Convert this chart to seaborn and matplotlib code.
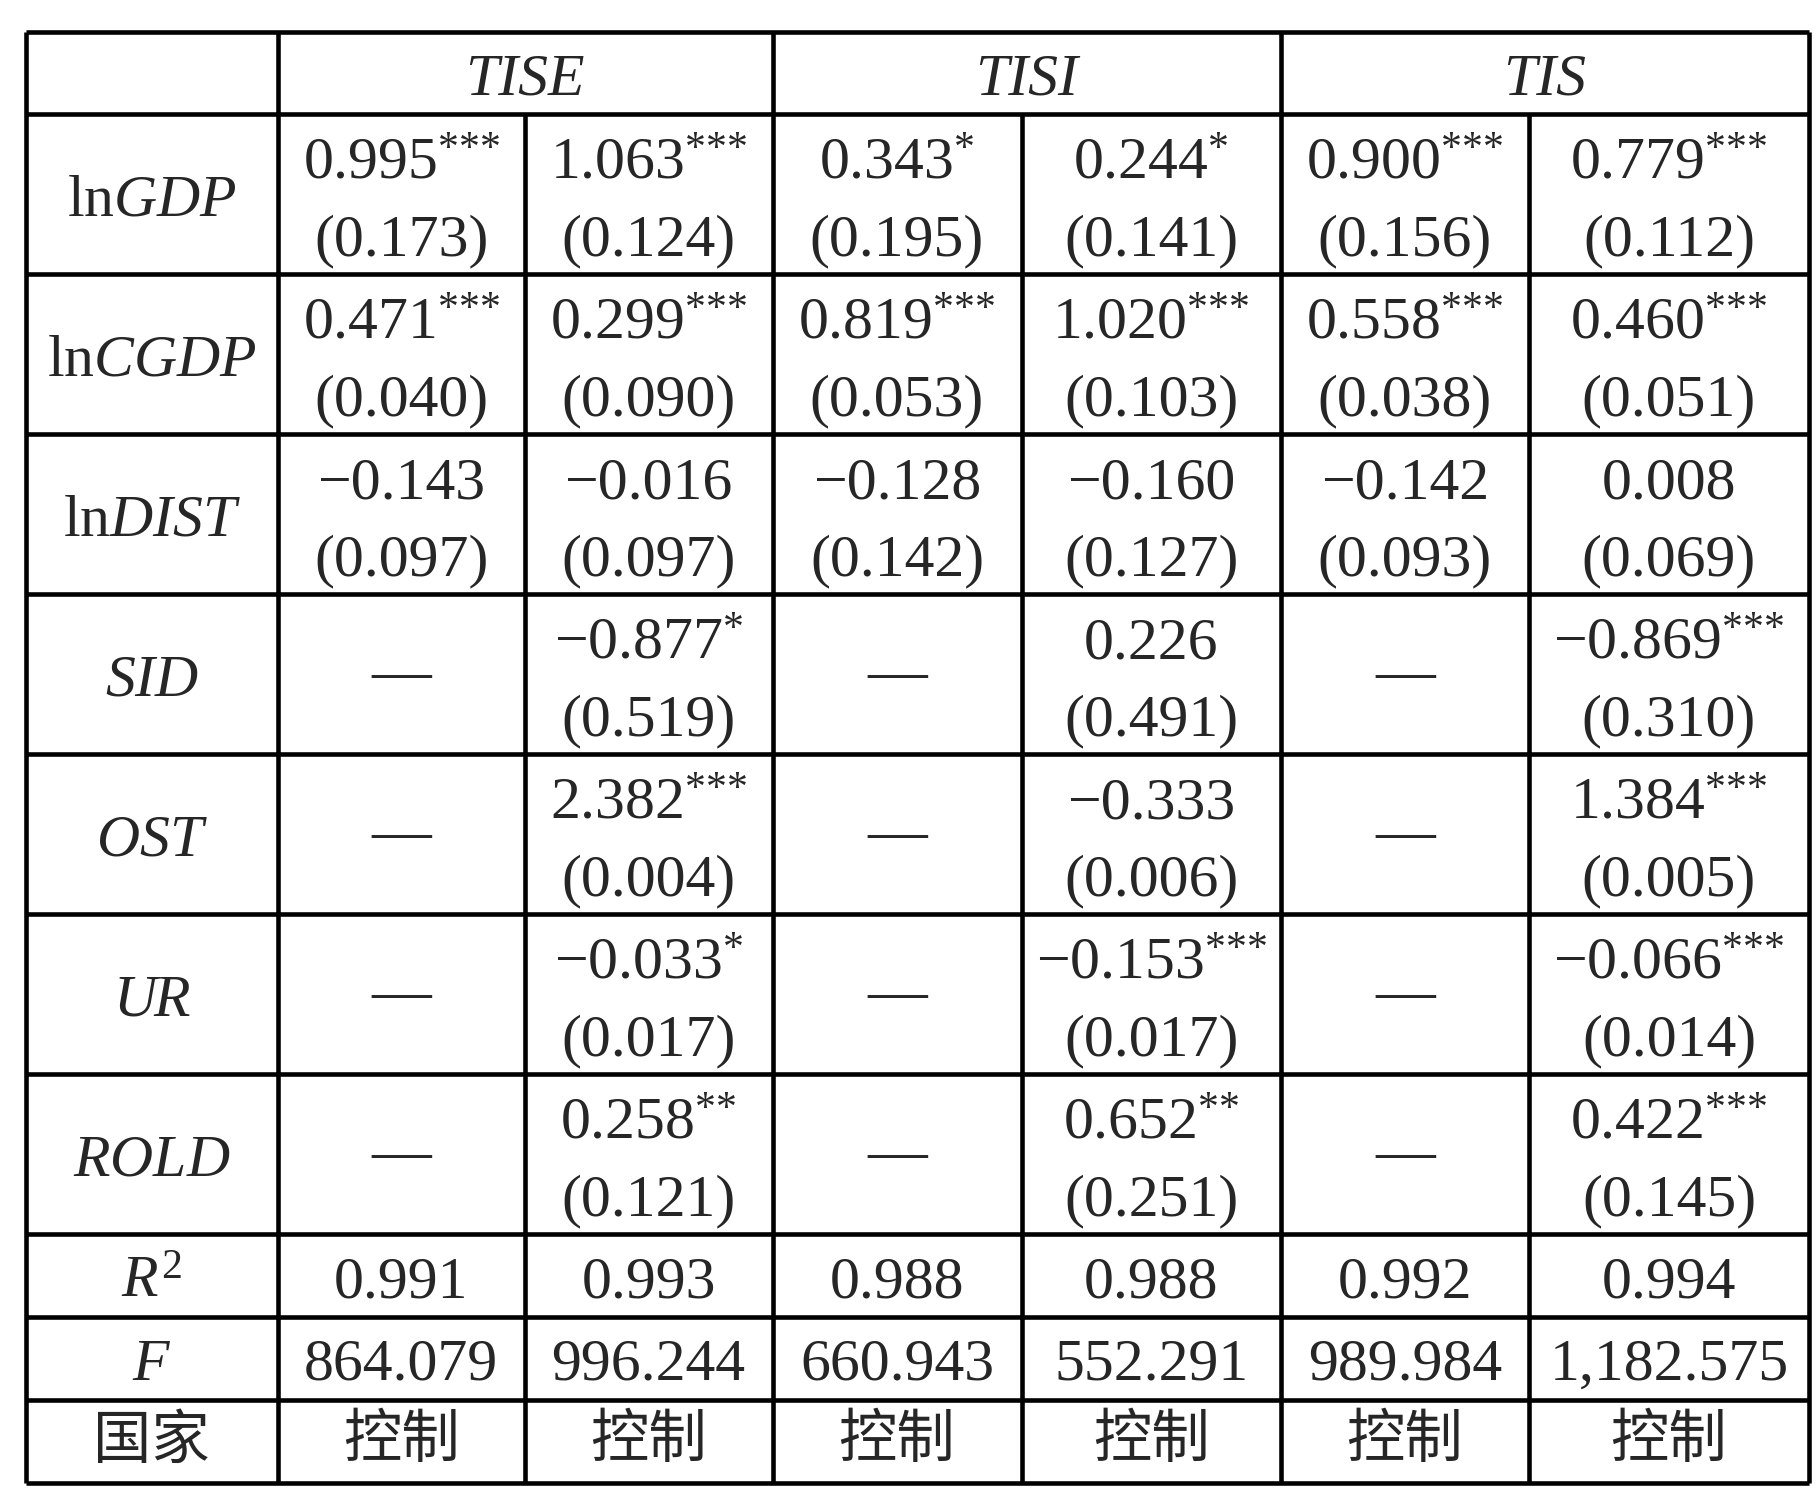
import numpy as np
import matplotlib
matplotlib.use("Agg")
import matplotlib.pyplot as plt
import seaborn as sns

# ---- table content ----
groups = ["TISE", "TISI", "TIS"]
row_labels = [r"ln$\mathit{GDP}$", r"ln$\mathit{CGDP}$", r"ln$\mathit{DIST}$",
              r"$\mathit{SID}$", r"$\mathit{OST}$", r"$\mathit{UR}$", r"$\mathit{ROLD}$"]
stat_labels = [r"$\mathit{R}^{\mathit{2}}$", r"$\mathit{F}$", "国家"]

nan = np.nan
coef = [
    [0.995, 1.063, 0.343, 0.244, 0.900, 0.779],
    [0.471, 0.299, 0.819, 1.020, 0.558, 0.460],
    [-0.143, -0.016, -0.128, -0.160, -0.142, 0.008],
    [nan, -0.877, nan, 0.226, nan, -0.869],
    [nan, 2.382, nan, -0.333, nan, 1.384],
    [nan, -0.033, nan, -0.153, nan, -0.066],
    [nan, 0.258, nan, 0.652, nan, 0.422],
]
stars = [
    [3, 3, 1, 1, 3, 3],
    [3, 3, 3, 3, 3, 3],
    [0, 0, 0, 0, 0, 0],
    [0, 1, 0, 0, 0, 3],
    [0, 3, 0, 0, 0, 3],
    [0, 1, 0, 3, 0, 3],
    [0, 2, 0, 2, 0, 3],
]
se = [
    [0.173, 0.124, 0.195, 0.141, 0.156, 0.112],
    [0.040, 0.090, 0.053, 0.103, 0.038, 0.051],
    [0.097, 0.097, 0.142, 0.127, 0.093, 0.069],
    [nan, 0.519, nan, 0.491, nan, 0.310],
    [nan, 0.004, nan, 0.006, nan, 0.005],
    [nan, 0.017, nan, 0.017, nan, 0.014],
    [nan, 0.121, nan, 0.251, nan, 0.145],
]
r2 = [0.991, 0.993, 0.988, 0.988, 0.992, 0.994]
f_stat = [864.079, 996.244, 660.943, 552.291, 989.984, 1182.575]
country = ["控制", "控制", "控制", "控制", "控制", "控制"]

# ---- layout (pixels) ----
W, H = 1816, 1503
left, top = 25.5, 32
col_w = [252.5, 246.7, 247.8, 249, 259.5, 248, 280]
row_h = [81.5] + [160] * 7 + [83] * 3

sns.set_theme(style="white")
plt.rcParams["font.family"] = ["Liberation Serif", "Noto Sans CJK SC", "DejaVu Sans"]
plt.rcParams["mathtext.fontset"] = "custom"
plt.rcParams["mathtext.rm"] = "Liberation Serif"
plt.rcParams["mathtext.it"] = "Liberation Serif:italic"

fs = 43
lw = 3.3

xs = left + np.concatenate([[0], np.cumsum(col_w)])
ys = top + np.concatenate([[0], np.cumsum(row_h)])

fig = plt.figure(figsize=(W / 100, H / 100), dpi=100)
ax = fig.add_axes([0, 0, 1, 1])
ax.set_xlim(0, W)
ax.set_ylim(H, 0)
ax.axis("off")

# grid lines
ax.hlines(ys, xs[0], xs[-1], color="black", lw=lw)
for i, x in enumerate(xs):
    y0 = ys[1] if i in (2, 4, 6) else ys[0]
    ax.vlines(x, y0, ys[-1], color="black", lw=lw)


def fmt(v):
    s = f"{abs(v):,.3f}"
    return ("\u2212" + s) if v < 0 else s


cx = (xs[:-1] + xs[1:]) / 2
cy = (ys[:-1] + ys[1:]) / 2

# header
for g, name in enumerate(groups):
    x = (xs[1 + 2 * g] + xs[3 + 2 * g]) / 2
    ax.text(x, cy[0] + 22, name, ha="center", va="baseline", fontsize=fs, style="italic")

# coefficient rows
for r in range(7):
    yc = cy[r + 1]
    ax.text(cx[0], yc + 22, row_labels[r], ha="center", va="baseline", fontsize=fs)
    for c in range(6):
        v = coef[r][c]
        if np.isnan(v):
            ax.text(cx[c + 1], yc + 17, "\u2014", ha="center", va="baseline", fontsize=fs)
            continue
        txt = fmt(v)
        if stars[r][c]:
            # each star in its own group so mathtext adds no operator spacing
            txt += r"$^{" + "{*}" * stars[r][c] + "}$"
        ax.text(cx[c + 1], yc - 15, txt, ha="center", va="baseline", fontsize=fs)
        ax.text(cx[c + 1], yc + 62, f"({se[r][c]:.3f})", ha="center", va="baseline", fontsize=fs)

# statistic rows
stat_vals = [[f"{v:.3f}" for v in r2], [fmt(v) for v in f_stat], country]
for k in range(3):
    yc = cy[8 + k]
    if k < 2:
        ax.text(cx[0], yc + 22, stat_labels[k], ha="center", va="baseline", fontsize=fs)
        for c in range(6):
            ax.text(cx[c + 1], yc + 22, stat_vals[k][c], ha="center", va="baseline", fontsize=fs)
    else:
        ax.text(cx[0], yc, stat_labels[k], ha="center", va="center", fontsize=fs - 1,
                family=["Noto Sans CJK SC"])
        for c in range(6):
            ax.text(cx[c + 1], yc, stat_vals[k][c], ha="center", va="center", fontsize=fs - 1,
                    family=["Noto Sans CJK SC"])

fig.savefig("out.png", dpi=100, facecolor="white")
